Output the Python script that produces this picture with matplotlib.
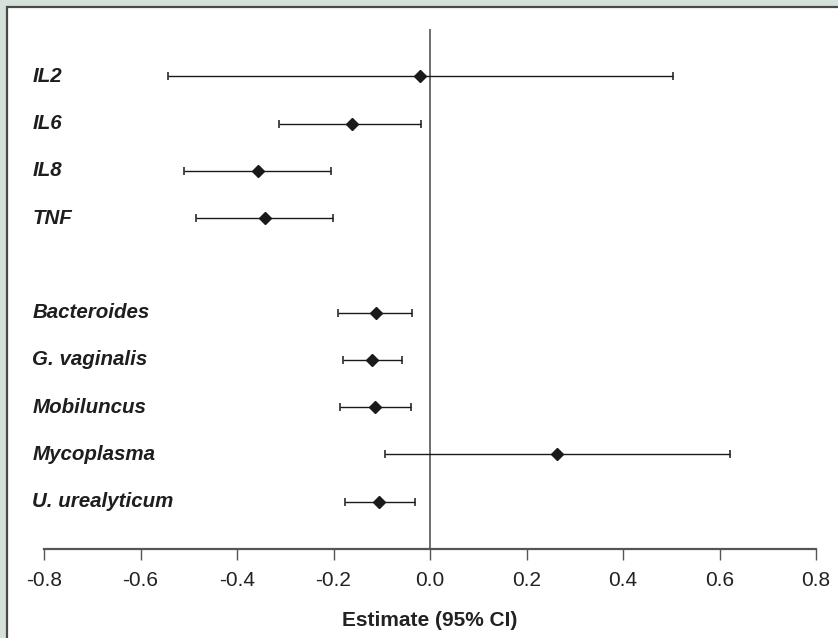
import matplotlib.pyplot as plt
from matplotlib.patches import Rectangle

labels = ['IL2', 'IL6', 'IL8', 'TNF', '',
          'Bacteroides', 'G. vaginalis', 'Mobiluncus', 'Mycoplasma', 'U. urealyticum']
estimate = [-0.021, -0.162, -0.356, -0.343, None, -0.112, -0.120, -0.113, 0.264, -0.105]
ci_low = [-0.544, -0.312, -0.510, -0.484, None, -0.190, -0.181, -0.187, -0.093, -0.177]
ci_high = [0.504, -0.018, -0.206, -0.202, None, -0.037, -0.057, -0.039, 0.621, -0.032]
xticks = [-0.8, -0.6, -0.4, -0.2, 0.0, 0.2, 0.4, 0.6, 0.8]

plt.rcParams['font.family'] = ['Liberation Sans', 'DejaVu Sans']

fig = plt.figure(figsize=(8.38, 6.38), dpi=100)
fig.patch.set_facecolor('#d6e1d9')

# white panel with dark border, cut off at right and bottom
panel = Rectangle((7 / 838, -0.05), 1.0, 1 - 6.5 / 638 + 0.05, transform=fig.transFigure,
                  facecolor='white', edgecolor='#4a4a4a', linewidth=1.6, zorder=-10)
fig.patches.append(panel)

ax = fig.add_axes([44 / 838, 1 - 549 / 638, (816 - 44) / 838, (549 - 29) / 638])
ax.set_facecolor('none')
ax.set_zorder(1)

for i in range(len(labels)):
    if estimate[i] is None:
        continue
    ax.errorbar(estimate[i], i,
                xerr=[[estimate[i] - ci_low[i]], [ci_high[i] - estimate[i]]],
                fmt='D', color='#1a1a1a', ms=6.5, elinewidth=1.0, capsize=2.8,
                capthick=1.1, zorder=3)
    ax.text(-0.015, i, labels[i], transform=ax.get_yaxis_transform(),
            ha='left', va='center', fontsize=14.8, fontweight='bold',
            fontstyle='italic', color='#1e1e1e')

ax.axvline(0, color='#555555', linewidth=1.2, zorder=2)

ax.set_xlim(-0.8, 0.8)
ax.set_ylim(10.0, -1.0)
ax.set_yticks([])
ax.set_xticks(xticks)
ax.set_xticklabels(['%.1f' % t for t in xticks], fontsize=15, color='#222222')
ax.tick_params(axis='x', length=8, width=1.0, color='#555555', pad=8)
for s in ['left', 'right', 'top']:
    ax.spines[s].set_visible(False)
ax.spines['bottom'].set_color('#555555')
ax.spines['bottom'].set_linewidth(1.6)
ax.set_xlabel('Estimate (95% CI)', fontsize=15, fontweight='bold', color='#222222', labelpad=15)

fig.savefig('out.png', dpi=100, facecolor=fig.get_facecolor())
